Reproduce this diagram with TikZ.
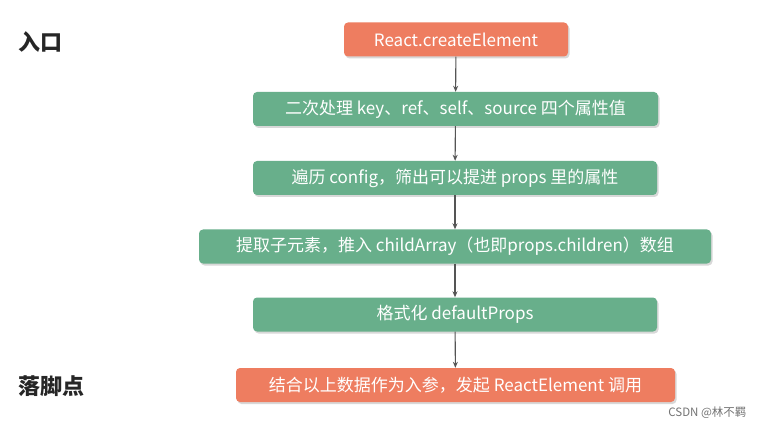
\documentclass[tikz,border=0pt]{standalone}
\usepackage{fontspec}
\setmainfont{Noto Sans CJK SC}
\usetikzlibrary{shadows,arrows.meta}
\definecolor{stepgreen}{HTML}{68AF8B}
\definecolor{steporange}{HTML}{EE7D60}
\definecolor{arrowgray}{HTML}{555555}
\tikzset{
  stepbox/.style={rounded corners=4pt, minimum height=34pt, text=white, font=\fontsize{17}{19}\selectfont,
    inner sep=0pt, drop shadow={shadow xshift=1.5pt, shadow yshift=-2pt, fill=black!25, opacity=0.6}},
  greenbox/.style={stepbox, fill=stepgreen},
  orangebox/.style={stepbox, fill=steporange},
  flow/.style={draw=arrowgray, line width=1.1pt, -{Stealth[length=6pt,width=5pt]}},
  sidelabel/.style={font=\fontsize{22}{24}\selectfont\bfseries, text=black!85, anchor=west, inner sep=0pt}
}
\begin{document}
\begin{tikzpicture}[x=1pt,y=-1pt]
\useasboundingbox (0,0) rectangle (762,430);
\fill[white] (0,0) rectangle (762,430);
\node[orangebox, minimum width=224pt] (n1) at (456,39.5) {React.createElement};
\node[greenbox, minimum width=405pt] (n2) at (455.5,109) {二次处理 key、ref、self、source 四个属性值};
\node[greenbox, minimum width=404pt] (n3) at (455,178) {遍历 config，筛出可以提进 props 里的属性};
\node[greenbox, minimum width=512pt] (n4) at (455,246.5) {提取子元素，推入 childArray（也即props.children）数组};
\node[greenbox, minimum width=404pt] (n5) at (455,314.5) {格式化 defaultProps};
\node[orangebox, minimum width=439pt] (n6) at (455.5,385) {结合以上数据作为入参，发起 ReactElement 调用};
\draw[flow] (n1) -- (n2);
\draw[flow] (n2) -- (n3);
\draw[flow] (n3) -- (n4);
\draw[flow] (n4) -- (n5);
\draw[flow] (n5) -- (n6);
\node[sidelabel] (l1) at (18,42) {入口};
\node[sidelabel] (l2) at (18,386) {落脚点};
\node[font=\fontsize{11.5}{13}\selectfont, text=black!55, anchor=east] (wm) at (750,413) {CSDN @林不羁};
\end{tikzpicture}
\end{document}
